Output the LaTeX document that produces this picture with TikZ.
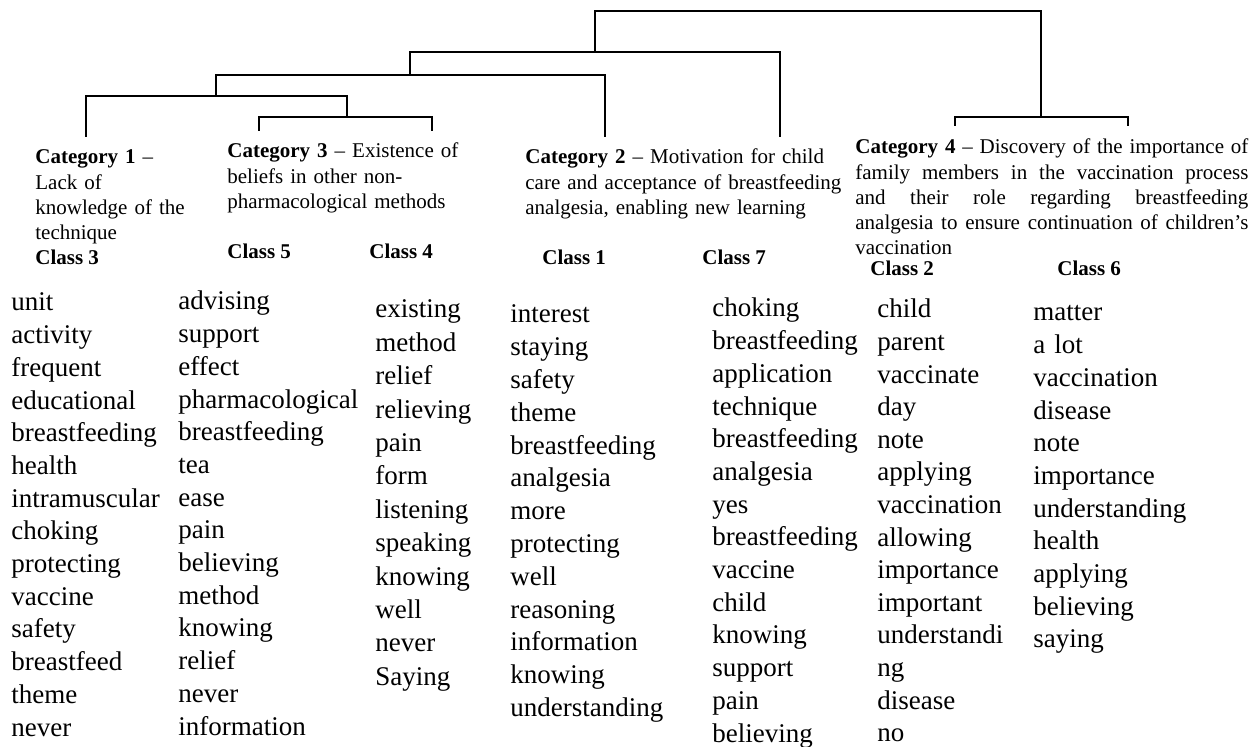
\documentclass[tikz,border=0pt]{standalone}
\usepackage{fontspec}
\setmainfont{Liberation Serif}
\tikzstyle{category} = [anchor=base west, inner sep=0pt, align=left, font=\fontsize{10.5}{12.6}\selectfont]
\tikzstyle{classlabel} = [anchor=base west, inner sep=0pt, font=\fontsize{10.5}{12.6}\selectfont\bfseries]
\tikzstyle{words} = [anchor=base west, inner sep=0pt, align=left, text width=100pt, font=\fontsize{13.5}{16.35}\selectfont]
\tikzstyle{link} = [line width=0.9pt]

\begin{document}
\begin{tikzpicture}[x=0.5pt, y=-0.5pt]
            \useasboundingbox (0,0) rectangle (1254,747);
            % ends and joins of the tree
            \coordinate (c1) at (86,137);
            \coordinate (c3l) at (259,131);
            \coordinate (c3r) at (432,131);
            \coordinate (c2l) at (605,137);
            \coordinate (c2r) at (780,137);
            \coordinate (c4l) at (955,126);
            \coordinate (c4r) at (1128,126);
            \coordinate (j3) at (347,117);
            \coordinate (j13) at (216,96);
            \coordinate (j132) at (410,75);
            \coordinate (j1322) at (595,52);
            \coordinate (j4) at (1041,117);
            \coordinate (root) at (818,11);
            \draw[link] (c3l) |- (j3) -| (c3r);
            \draw[link] (c1) |- (j13) -| (j3);
            \draw[link] (j13) |- (j132) -| (c2l);
            \draw[link] (j132) |- (j1322) -| (c2r);
            \draw[link] (c4l) |- (j4) -| (c4r);
            \draw[link] (j1322) |- (root) -| (j4);

            % categories
            \node(cat1) [category, text width=80pt] at (35,164) {\textbf{Category 1} –\\Lack of\\knowledge of the\\technique};
            \node(cat3) [category, text width=120pt] at (227,158) {\textbf{Category 3} – Existence of\\beliefs in other non-\\pharmacological methods};
            \node(cat2) [category, text width=165pt] at (525,164) {\textbf{Category 2} – Motivation for child\\care and acceptance of breastfeeding\\analgesia, enabling new learning};
            \node(cat4) [category, text width=196.5pt, align=justify] at (855,154) {\textbf{Category 4} – Discovery of the importance of\linebreak family members in the vaccination process\linebreak and their role regarding breastfeeding\linebreak analgesia to ensure continuation of children’s\linebreak vaccination};

            % classes
            \node(class3) [classlabel] at (35,265) {Class 3};
            \node(class5) [classlabel] at (227,259) {Class 5};
            \node(class4) [classlabel] at (369,259) {Class 4};
            \node(class1) [classlabel] at (542,265) {Class 1};
            \node(class7) [classlabel] at (702,265) {Class 7};
            \node(class2) [classlabel] at (870,276) {Class 2};
            \node(class6) [classlabel] at (1057,276) {Class 6};

            % words of each class
            \node(words3) [words] at (11,311) {unit\\activity\\frequent\\educational\\breastfeeding\\health\\intramuscular\\choking\\protecting\\vaccine\\safety\\breastfeed\\theme\\never};
            \node(words5) [words] at (178,310) {advising\\support\\effect\\pharmacological\\breastfeeding\\tea\\ease\\pain\\believing\\method\\knowing\\relief\\never\\information};
            \node(words4) [words, font=\fontsize{13.5}{16.7}\selectfont] at (375,318) {existing\\method\\relief\\relieving\\pain\\form\\listening\\speaking\\knowing\\well\\never\\Saying};
            \node(words1) [words, font=\fontsize{13.5}{16.4}\selectfont] at (510,323) {interest\\staying\\safety\\theme\\breastfeeding\\analgesia\\more\\protecting\\well\\reasoning\\information\\knowing\\understanding};
            \node(words7) [words] at (712,317) {choking\\breastfeeding\\application\\technique\\breastfeeding\\analgesia\\yes\\breastfeeding\\vaccine\\child\\knowing\\support\\pain\\believing};
            \node(words2) [words, font=\fontsize{13.5}{16.3}\selectfont] at (877,318) {child\\parent\\vaccinate\\day\\note\\applying\\vaccination\\allowing\\importance\\important\\understandi\\ng\\disease\\no};
            \node(words6) [words] at (1033,321) {matter\\a lot\\vaccination\\disease\\note\\importance\\understanding\\health\\applying\\believing\\saying};
        \end{tikzpicture}
\end{document}
